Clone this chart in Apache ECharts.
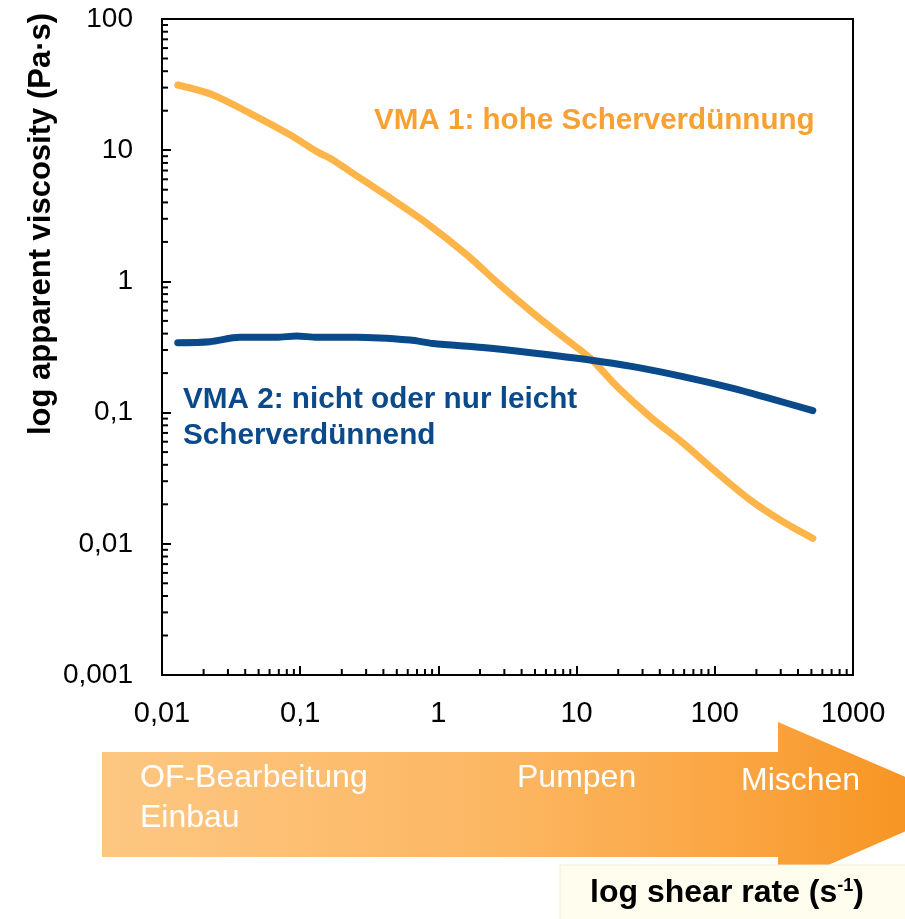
<!DOCTYPE html>
<html>
<head>
<meta charset="utf-8">
<script src="https://cdn.jsdelivr.net/npm/echarts@6/dist/echarts.min.js"></script>
<style>
  html, body { margin: 0; padding: 0; background: #fff; }
  #chart { width: 905px; height: 919px; }
</style>
</head>
<body>
<div id="chart"></div>
<script>
// shear rate (1/s) and apparent viscosity (Pa·s)
const shearVMA1 = [0.013, 0.0234, 0.0434, 0.0844, 0.132, 0.17, 0.229, 0.397, 0.826, 1.61, 2.79, 4.83, 8.53, 12.5, 19.6, 34, 58.9, 104, 180, 312, 512]
const viscVMA1 = [31.4, 26.4, 19.1, 13.1, 9.75, 8.5, 6.9, 4.7, 2.77, 1.59, 0.94, 0.574, 0.357, 0.261, 0.158, 0.093, 0.0586, 0.0347, 0.0216, 0.0147, 0.011]

const shearVMA2 = [0.013, 0.0222, 0.0366, 0.0676, 0.0943, 0.132, 0.256, 0.623, 0.914, 2.1, 4.83, 12.5, 25.6, 58.9, 136, 239, 512]
const viscVMA2 = [0.341, 0.347, 0.375, 0.375, 0.384, 0.375, 0.375, 0.357, 0.336, 0.313, 0.285, 0.252, 0.224, 0.188, 0.153, 0.130, 0.1035]

// axis ticks
const xTickLabels = ['0,01', '0,1', '1', '10', '100', '1000']
const yTickLabels = ['0,001', '0,01', '0,1', '1', '10', '100']
const xDecades = [0.01, 0.1, 1, 10, 100]
const yDecades = [0.001, 0.01, 0.1, 1, 10]
const minorFactors = [2, 3, 4, 5, 6, 7, 8, 9]

const xMinor = []
xDecades.forEach(d => minorFactors.forEach(f => xMinor.push([d * f, 0.001])))
const yMinor = []
yDecades.forEach(d => minorFactors.forEach(f => yMinor.push([0.01, d * f])))

const FONT = '"Liberation Sans", Arial, sans-serif'
const ORANGE_LINE = '#FDB449'
const ORANGE_TEXT = '#F8A133'
const BLUE = '#0A4A8A'

const chart = echarts.init(document.getElementById('chart'))

const minorTick = (dir) => (params, api) => {
  const p = api.coord([api.value(0), api.value(1)])
  const len = 6
  return {
    type: 'line',
    shape: dir === 'x'
      ? { x1: p[0], y1: p[1], x2: p[0], y2: p[1] - len }
      : { x1: p[0], y1: p[1], x2: p[0] + len, y2: p[1] },
    style: { stroke: '#000', lineWidth: 2 },
    silent: true
  }
}

chart.setOption({
  animation: false,
  backgroundColor: '#fff',
  grid: { left: 162, right: 52, top: 19, bottom: 244, show: true, borderColor: '#000', borderWidth: 2 },
  xAxis: {
    type: 'log',
    logBase: 10,
    min: 0.01,
    max: 1000,
    splitNumber: 5,
    axisLine: { lineStyle: { color: '#000', width: 2 } },
    axisTick: { inside: true, length: 9, lineStyle: { color: '#000', width: 2 } },
    splitLine: { show: false },
    axisLabel: {
      color: '#000', fontSize: 29, fontFamily: FONT, margin: 24,
      formatter: v => xTickLabels[Math.round(Math.log10(v)) + 2]
    }
  },
  yAxis: {
    type: 'log',
    logBase: 10,
    min: 0.001,
    max: 100,
    splitNumber: 5,
    axisLine: { lineStyle: { color: '#000', width: 2 } },
    axisTick: { inside: true, length: 9, lineStyle: { color: '#000', width: 2 } },
    splitLine: { show: false },
    axisLabel: {
      color: '#000', fontSize: 28, fontFamily: FONT, margin: 29,
      formatter: v => yTickLabels[Math.round(Math.log10(v)) + 3]
    }
  },
  series: [
    { type: 'custom', data: xMinor, renderItem: minorTick('x'), silent: true, clip: false, z: 5 },
    { type: 'custom', data: yMinor, renderItem: minorTick('y'), silent: true, clip: false, z: 5 },
    {
      name: 'VMA 1',
      type: 'line',
      data: shearVMA1.map((x, i) => [x, viscVMA1[i]]),
      smooth: 0.3,
      showSymbol: false,
      lineStyle: { color: ORANGE_LINE, width: 7, cap: 'round', join: 'round' },
      z: 3
    },
    {
      name: 'VMA 2',
      type: 'line',
      data: shearVMA2.map((x, i) => [x, viscVMA2[i]]),
      smooth: 0.3,
      showSymbol: false,
      lineStyle: { color: BLUE, width: 7, cap: 'round', join: 'round' },
      z: 4
    }
  ],
  graphic: [
    // y axis title
    {
      type: 'text', x: 41, y: 224, rotation: Math.PI / 2,
      style: { text: 'log apparent viscosity (Pa·s)', fill: '#000', font: 'bold 31px ' + FONT, align: 'center', verticalAlign: 'middle' }
    },
    // curve annotations
    {
      type: 'text', x: 374, y: 121,
      style: { text: 'VMA 1: hohe Scherverdünnung', fill: ORANGE_TEXT, font: 'bold 29.6px ' + FONT, align: 'left', verticalAlign: 'middle' }
    },
    {
      type: 'text', x: 183, y: 418,
      style: { text: 'VMA 2: nicht oder nur leicht\nScherverdünnend', fill: BLUE, font: 'bold 29.7px ' + FONT, lineHeight: 36, align: 'left', verticalAlign: 'middle' }
    },
    // process arrow
    {
      type: 'polygon',
      shape: { points: [[102, 752], [778, 752], [778, 722], [968, 804], [778, 887], [778, 857], [102, 857]] },
      style: {
        fill: new echarts.graphic.LinearGradient(0, 0, 1, 0, [
          { offset: 0, color: '#FDC782' },
          { offset: 0.45, color: '#FCB763' },
          { offset: 0.75, color: '#FAA440' },
          { offset: 1, color: '#F68F18' }
        ])
      },
      z: 1
    },
    { type: 'text', x: 140, y: 778, style: { text: 'OF-Bearbeitung', fill: '#fff', font: '32px ' + FONT, verticalAlign: 'middle' }, z: 2 },
    { type: 'text', x: 140, y: 818, style: { text: 'Einbau', fill: '#fff', font: '32px ' + FONT, verticalAlign: 'middle' }, z: 2 },
    { type: 'text', x: 517, y: 778, style: { text: 'Pumpen', fill: '#fff', font: '32px ' + FONT, verticalAlign: 'middle' }, z: 2 },
    { type: 'text', x: 741, y: 781, style: { text: 'Mischen', fill: '#fff', font: '32px ' + FONT, verticalAlign: 'middle' }, z: 2 },
    // x axis title box
    {
      type: 'rect',
      shape: { x: 560, y: 865, width: 350, height: 60 },
      style: { fill: '#FFFEEE', stroke: '#EDEDD8', lineWidth: 1 },
      z: 3
    },
    {
      type: 'text', x: 727, y: 893,
      style: {
        text: 'log shear rate (s{sup|-1})',
        fill: '#000', font: 'bold 32px ' + FONT, align: 'center', verticalAlign: 'middle',
        rich: { sup: { fontSize: 18, fontWeight: 'bold', fontFamily: FONT, verticalAlign: 'top', padding: [0, 0, 12, 0] } }
      },
      z: 4
    }
  ]
})
</script>
</body>
</html>
